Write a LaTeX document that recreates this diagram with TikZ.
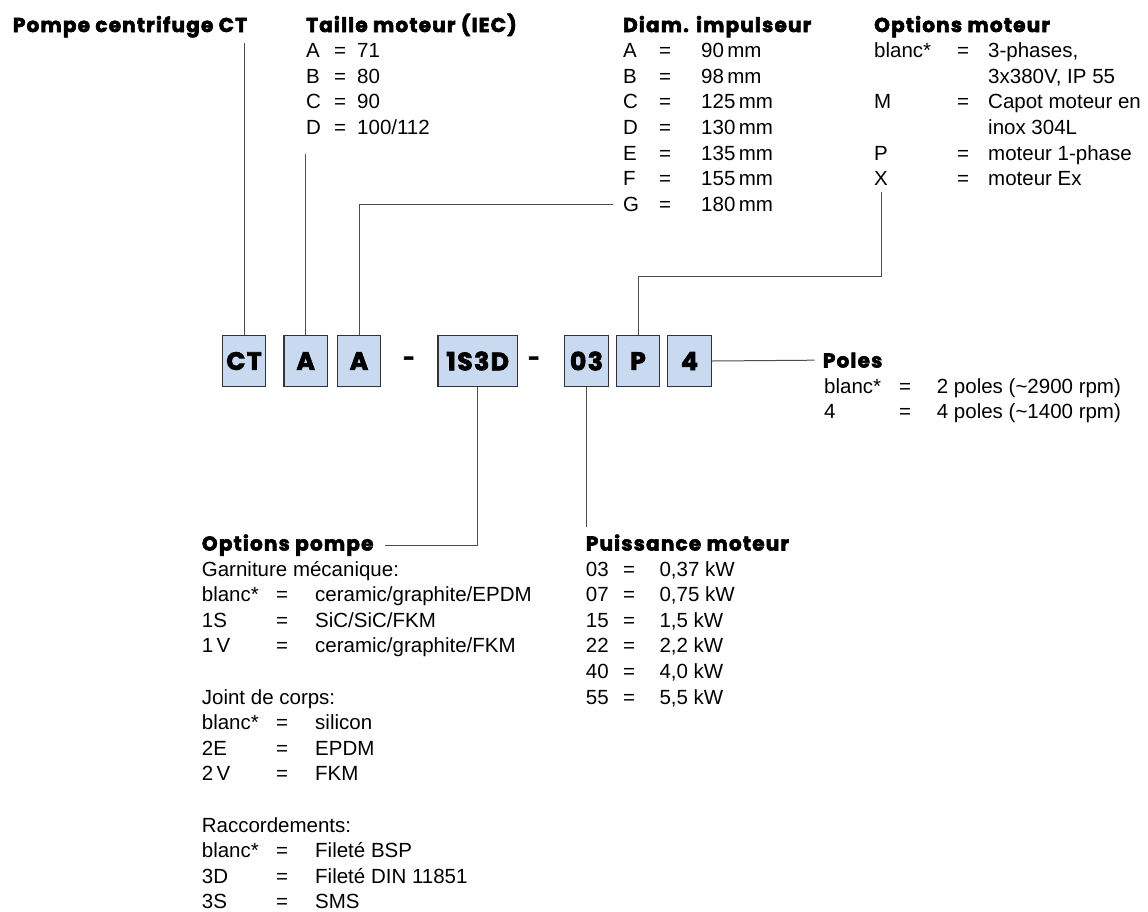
\documentclass[tikz,border=0pt]{standalone}
\usepackage{fontspec}
\setmainfont{Liberation Sans}
\newfontfamily\headfont{Poppins}[BoldFeatures={FakeBold=3,LetterSpace=6}]
\definecolor{codeblue}{HTML}{C9D9F0}
\begin{document}
\begin{tikzpicture}[x=1pt,y=-1pt,
  conn/.style={draw=black!70,line width=1pt},
  code/.style={draw=black!80,fill=codeblue,line width=1.2pt,minimum width=43.5pt,minimum height=51pt,inner sep=0pt,font=\headfont\bfseries\fontsize{25}{25}\selectfont},
  head/.style={anchor=base west,inner sep=0pt,font=\headfont\bfseries\fontsize{20}{20}\selectfont},
  txt/.style={anchor=base west,inner sep=0pt,font=\fontsize{20.5}{24}\selectfont},
  eq/.style={anchor=base,inner sep=0pt,font=\fontsize{20.5}{24}\selectfont}]
\useasboundingbox (0,0) rectangle (1148,911);
\node[code] (ct) at (244,361) {CT};
\node[code] (a1) at (305.7,361) {A};
\node[code] (a2) at (359,361) {A};
\node[head,anchor=center] (dash1) at (409,361) {-};
\node[code,minimum width=79.5pt] (s3d) at (477.7,361) {1S3D};
\node[head,anchor=center] (dash2) at (534,361) {-};
\node[code] (d03) at (586.5,361) {03};
\node[code] (p) at (638,361) {P};
\node[code] (d4) at (689.5,361) {4};
\node[head] (pompe) at (12.7,32) {Pompe centrifuge CT};
\node[head] (taille) at (306,32) {Taille moteur (IEC)};
\node[head] (diam) at (623,32) {Diam. impulseur};
\node[head] (moteur) at (874,32) {Options moteur};
\node[head] (poles) at (822.7,367.5) {Poles};
\node[head] (pompeopt) at (201.7,550.5) {Options pompe};
\node[head] (puiss) at (585.7,550.5) {Puissance moteur};
\foreach \k/\v [count=\i] in {A/71,B/80,C/90,D/{100/112}}{
  \node[txt] (taille-k\i) at (306,32+25.6*\i) {\k};
  \node[eq] (taille-e\i) at (340,32+25.6*\i) {=};
  \node[txt] (taille-v\i) at (357,32+25.6*\i) {\v};
}
\foreach \k/\v [count=\i] in {A/90,B/98,C/125,D/130,E/135,F/155,G/180}{
  \node[txt] (diam-k\i) at (623,32+25.6*\i) {\k};
  \node[eq] (diam-e\i) at (665,32+25.6*\i) {=};
  \node[txt] (diam-v\i) at (701,32+25.6*\i) {\v\,mm};
}
\foreach \k/\i in {blanc*/1,M/3,P/5,X/6}{
  \node[txt] (mot-k\i) at (874,32+25.6*\i) {\k};
  \node[eq] (mot-e\i) at (963,32+25.6*\i) {=};
}
\foreach \v [count=\i] in {{3-phases,},{3x380V, IP 55},Capot moteur en,inox 304L,moteur 1-phase,moteur Ex}
  \node[txt] (mot-v\i) at (988,32+25.6*\i) {\v};
\foreach \k/\v [count=\i] in {blanc*/{2 poles (\textasciitilde2900 rpm)},4/{4 poles (\textasciitilde1400 rpm)}}{
  \node[txt] (poles-k\i) at (824,367.5+25.6*\i) {\k};
  \node[eq] (poles-e\i) at (905,367.5+25.6*\i) {=};
  \node[txt] (poles-v\i) at (936.7,367.5+25.6*\i) {\v};
}
\foreach \t/\r in {Garniture mécanique:/1,Joint de corps:/6,Raccordements:/11}
  \node[txt] (pompe-t\r) at (201.7,550.5+25.6*\r) {\t};
\foreach \r/\k/\v in {2/blanc*/{ceramic/graphite/EPDM},3/1S/{SiC/SiC/FKM},4/1\,V/{ceramic/graphite/FKM},
  7/blanc*/silicon,8/2E/EPDM,9/2\,V/FKM,12/blanc*/Fileté BSP,13/3D/Fileté DIN 11851,14/3S/SMS}{
  \node[txt] (pompe-k\r) at (201.7,550.5+25.6*\r) {\k};
  \node[eq] (pompe-e\r) at (282,550.5+25.6*\r) {=};
  \node[txt] (pompe-v\r) at (315,550.5+25.6*\r) {\v};
}
\foreach \k/\v [count=\i] in {03/{0,37 kW},07/{0,75 kW},15/{1,5 kW},22/{2,2 kW},40/{4,0 kW},55/{5,5 kW}}{
  \node[txt] (puiss-k\i) at (585.7,550.5+25.6*\i) {\k};
  \node[eq] (puiss-e\i) at (629,550.5+25.6*\i) {=};
  \node[txt] (puiss-v\i) at (659.3,550.5+25.6*\i) {\v};
}
\coordinate (ctend) at (244,42.7);
\coordinate (a1end) at (305.7,154);
\coordinate (xend) at (881.7,192);
\draw[conn] (ct.north) -- (ctend);
\draw[conn] (a1.north) -- (a1end);
\draw[conn] (a2.north) |- ([xshift=-10pt]diam-k7.west);
\draw[conn] (p.north) -- ++(0,-58) -| (xend);
\draw[conn] (d4.east) -- ([xshift=-8pt]poles.west);
\draw[conn] (s3d.south) |- ([xshift=11pt]pompeopt.east);
\draw[conn,shorten >=7pt] (d03.south) -- (d03.south |- puiss.north);
\end{tikzpicture}
\end{document}
